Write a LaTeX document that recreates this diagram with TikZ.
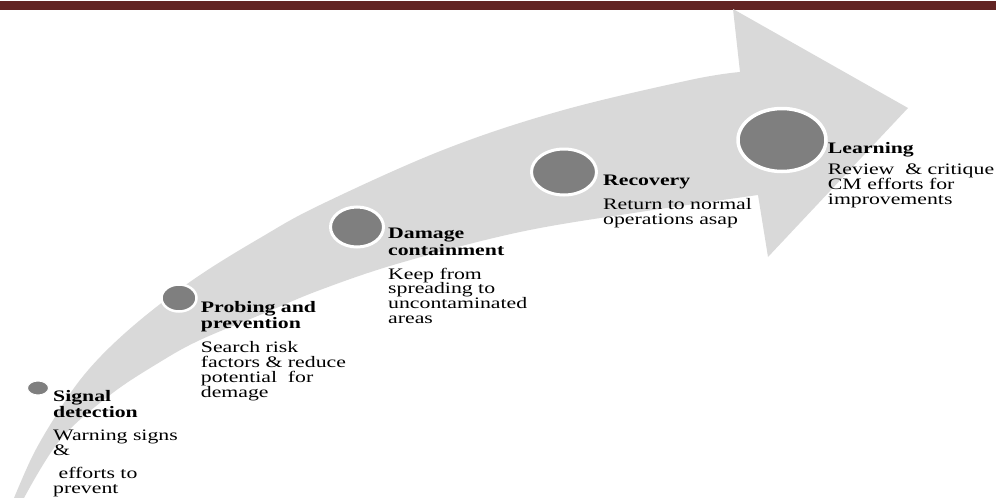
\documentclass[tikz,border=0pt]{standalone}
\usepackage{fontspec}
\setmainfont{Liberation Serif}[FakeStretch=1.36]
\usetikzlibrary{positioning,shapes.geometric}
\definecolor{barred}{HTML}{622423}
\definecolor{arrowgray}{HTML}{D9D9D9}
\definecolor{dotgray}{HTML}{7F7F7F}
\begin{document}
\begin{tikzpicture}[x=1pt,y=-1pt,
		stagedot/.style={ellipse,fill=dotgray,draw=white,line width=3pt,inner sep=0pt},
		stagetitle/.style={anchor=north west,inner sep=0pt,align=left,font=\fontsize{16}{16.5}\selectfont\bfseries},
		stagetext/.style={inner sep=0pt,align=left,font=\fontsize{16}{14.8}\selectfont}]
	\useasboundingbox (0,0) rectangle (996,498);
	\fill[barred] (0,1) rectangle (996,10);
	\fill[arrowgray] plot[smooth,tension=0.6] coordinates {(14,498) (33,455) (55,417) (80,380) (110,347) (150,312) (200,275) (260,238) (320,205) (443,150) (560,111) (690,80) (740,72)}
		-- (733,9) -- (908,108) -- (768,257) -- (758,195)
		-- plot[smooth,tension=0.6] coordinates {(758,195) (640,212) (520,232) (400,263) (320,290) (260,315) (200,340) (160,362) (110,395) (60,440) (24,498)} -- cycle;
	\node[stagedot,minimum width=21pt,minimum height=14pt,line width=1pt] (sig) at (38,388) {};
	\node[stagedot,minimum width=35pt,minimum height=27pt,line width=2.5pt] (prob) at (179,298) {};
	\node[stagedot,minimum width=53pt,minimum height=40pt] (dmg) at (357,227) {};
	\node[stagedot,minimum width=65pt,minimum height=46pt] (rec) at (564,172) {};
	\node[stagedot,minimum width=88pt,minimum height=63pt,line width=3.5pt] (learn) at (782,140) {};
	\node[stagetitle] (sigT) at ([xshift=4pt,yshift=-2pt]sig.east) {Signal\\detection};
	\node[stagetext,below right=12pt and 0pt of sigT.south west] (sigD) {Warning signs\\\&\\[8pt]\ efforts to\\prevent};
	\node[stagetitle] (probT) at ([xshift=3pt,yshift=-3pt]prob.east) {Probing and\\prevention};
	\node[stagetext,below right=9pt and 0pt of probT.south west] (probD) {Search risk\\factors \& reduce\\potential\ \ for\\demage};
	\node[stagetitle] (dmgT) at ([xshift=3pt,yshift=-1pt]dmg.east) {Damage\\containment};
	\node[stagetext,below right=12pt and 0pt of dmgT.south west] (dmgD) {Keep from\\spreading to\\uncontaminated\\areas};
	\node[stagetitle] (recT) at ([xshift=5pt,yshift=-3pt]rec.east) {Recovery};
	\node[stagetext,below right=9pt and 0pt of recT.south west] (recD) {Return to normal\\operations asap};
	\node[stagetitle] (learnT) at ([xshift=0pt,yshift=-2pt]learn.east) {Learning};
	\node[stagetext,below right=7pt and 0pt of learnT.south west] (learnD) {Review\ \ \& critique\\CM efforts for\\improvements};
\end{tikzpicture}
\end{document}
